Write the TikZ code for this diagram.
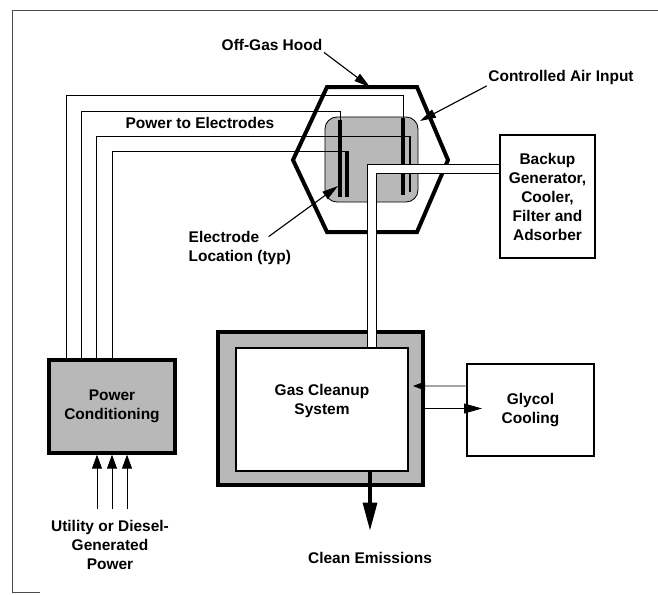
\documentclass[tikz,border=0pt]{standalone}
\usepackage{fontspec}
\setmainfont{Liberation Sans}
\usetikzlibrary{arrows.meta,positioning,calc}

\begin{document}
\begin{tikzpicture}[>={Triangle[length=0.3cm,width=0.22cm]},x=0.025cm,y=-0.025cm,
 font=\bfseries\fontsize{11}{13.5}\selectfont,
 unit/.style={draw,line width=0.08cm,inner sep=2pt,align=center},
 graybox/.style={unit,fill=black!28},
 whitebox/.style={unit,line width=0.07cm,fill=white},
 wire/.style={line width=0.6pt},
 rod/.style={line width=0.1cm},
 pipe/.style={double=white,double distance=0.2cm,line width=0.6pt},
 lab/.style={inner sep=1pt},
 callout/.style={-{Triangle[length=0.4cm,width=0.22cm]},line width=0.8pt},
 feed/.style={-{Triangle[length=0.35cm,width=0.25cm]},line width=0.6pt}]
\useasboundingbox (0,0) rectangle (658,594);
\draw[line width=0.5pt,black!70] (40,592) -- (12,592) -- (12,10) -- (658,10);
% off-gas hood and electrode chamber
\draw[line width=0.1cm,line join=miter] (327,87) -- (417,87) -- (448,160) -- (417,232) -- (327,232) -- (293,160) -- cycle;
\coordinate (hoodtop) at (370,87);
\node[draw,fill=black!28,rounded corners=0.3cm,line width=0.6pt,minimum width=2.325cm,minimum height=2.125cm] (chamber) at (371.5,159.5) {};
% units
\node[graybox,minimum width=3.15cm,minimum height=2.325cm] (powercond) at (112,406.5) {Power\\Conditioning};
\node[graybox,minimum width=5.125cm,minimum height=3.825cm] (gasout) at (320.5,408.5) {};
\node[draw,fill=white,line width=1pt,minimum width=4.3cm,minimum height=3.075cm] (gasin) at (322,409.5) {};
\node[lab,align=center] (gastxt) at (322,401) {Gas Cleanup\\System};
\node[whitebox,minimum width=3.175cm,minimum height=2.3cm] (glycol) at (530.5,410) {Glycol\\Cooling};
\node[whitebox,inner sep=1pt,minimum width=2.375cm,minimum height=3.075cm] (backup) at (547.5,196.5) {Backup\\Generator,\\Cooler,\\Filter and\\Adsorber};
% labels
\node[lab] (hoodlbl) at (272,45) {Off-Gas Hood};
\node[lab] (airlbl) at (561,77) {Controlled Air Input};
\node[lab] (pwrlbl) at (200,123) {Power to Electrodes};
\node[lab,align=left,anchor=west] (electlbl) at (187,248) {Electrode\\Location (typ)};
\node[lab] (cleanlbl) at (370,558) {Clean Emissions};
\node[lab,align=center] (utillbl) at (110,545) {Utility or Diesel-\\Generated\\Power};
% electrodes
\coordinate (rod1) at (340,120);
\coordinate (rod2) at (347,151);
\coordinate (rod3) at (403,118);
\coordinate (rod4) at (410,136);
\coordinate (bend1) at (403,95);
\coordinate (bend2) at (340,111);
\coordinate (w1) at ($(powercond.north west)+(19,0)$);
\coordinate (w2) at ($(powercond.north west)+(34,0)$);
\coordinate (w3) at ($(powercond.north west)+(49,0)$);
\coordinate (w4) at ($(powercond.north west)+(65,0)$);
\draw[wire] (w1) |- (bend1) -- (rod3);
\draw[wire] (w2) |- (bend2) -- (rod1);
\draw[wire] (w3) |- (rod4);
\draw[wire] (w4) |- (rod2);
\draw[rod] (rod1) -- ++(0,77);
\draw[rod,line width=0.08cm] (rod2) -- ++(0,46);
\draw[rod] (rod3) -- ++(0,77);
\draw[rod,line width=0.065cm] (rod4) -- ++(0,56);
% off-gas pipe
\coordinate (elbow) at (372,169);
\draw[pipe] (backup.west |- elbow) -- (elbow) -- (elbow |- gasin.north);
% flows
\coordinate (coolin) at (413,386);
\coordinate (coolout) at (482,408.5);
\draw[->,wire] ([yshift=0.6cm]glycol.west) -- (coolin);
\draw[-{Triangle[length=0.45cm,width=0.25cm]},wire] (gasout.east) -- (coolout);
\draw[-{Triangle[length=0.7cm,width=0.35cm]},line width=0.08cm] (cleanlbl |- gasin.south) -- ([yshift=0.5cm]cleanlbl.north);
\draw[feed] ([xshift=-0.375cm,yshift=-1.35cm]powercond.south) -- ([xshift=-0.375cm]powercond.south);
\draw[feed] ([yshift=-1.35cm]powercond.south) -- (powercond.south);
\draw[feed] ([xshift=0.375cm,yshift=-1.35cm]powercond.south) -- ([xshift=0.375cm]powercond.south);
% callouts
\coordinate (airpt) at (420,121);
\coordinate (elecpt) at (338,186);
\draw[callout] (hoodlbl.south east) -- (hoodtop);
\draw[callout] (airlbl.south west) -- (airpt);
\draw[callout] ([xshift=-0.6cm,yshift=-0.175cm]electlbl.north east) -- (elecpt);
\end{tikzpicture}
\end{document}
